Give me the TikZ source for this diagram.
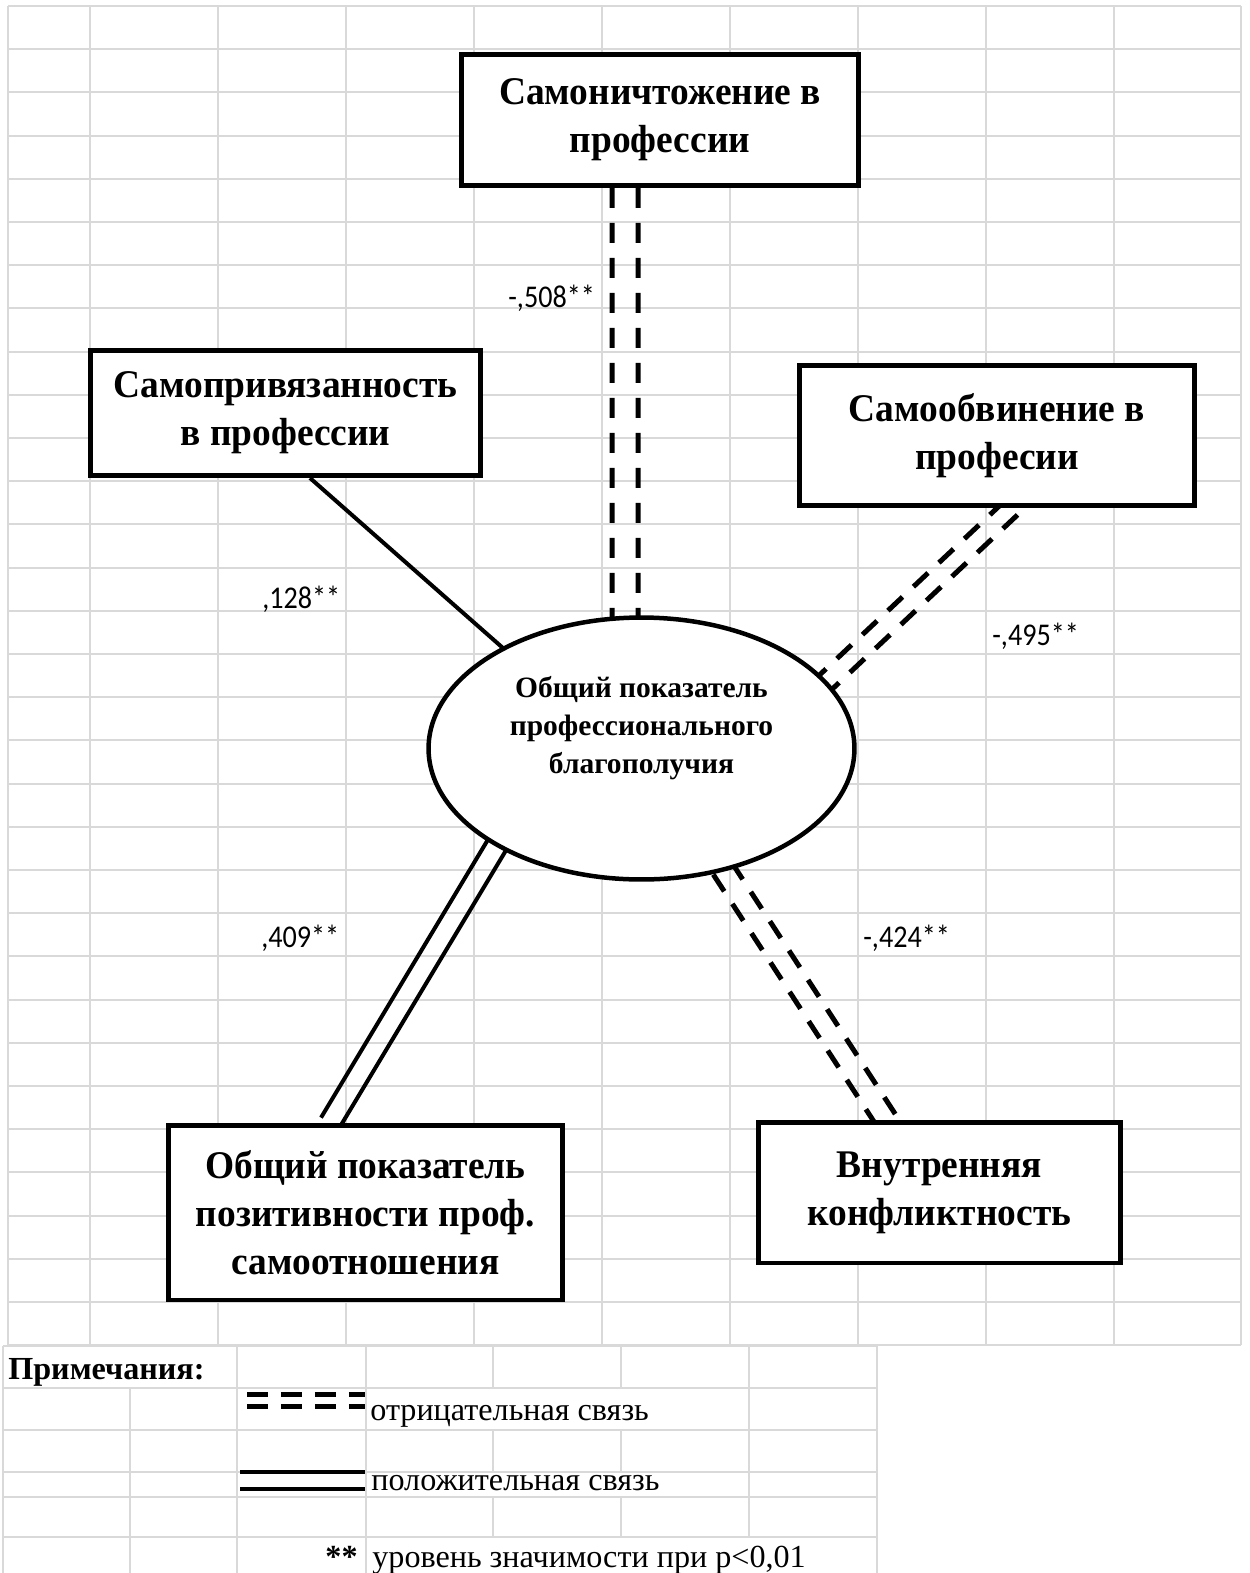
\documentclass[tikz,border=0pt]{standalone}
\usepackage{fontspec}
\setmainfont{Liberation Serif}
\newfontfamily\boxfamily[FakeStretch=0.955]{Liberation Serif}
\newfontfamily\corrfamily[FakeStretch=0.89]{Carlito}
\usetikzlibrary{shapes.geometric, calc, backgrounds}

\newcommand{\boxfont}{\boxfamily\fontsize{22.3}{27.5}\selectfont\bfseries}
\newcommand{\ovalfont}{\fontsize{16.8}{21.6}\selectfont\bfseries}
\newcommand{\corrfont}{\corrfamily\fontsize{18}{21}\selectfont}
\newcommand{\notefont}{\fontsize{18.3}{22}\selectfont}

% two parallel strokes between two points
\newcommand{\pairline}[4]{%
    \draw[#1] ($(#2)!#4!90:(#3)$) -- ($(#3)!#4!-90:(#2)$);
    \draw[#1] ($(#2)!#4!-90:(#3)$) -- ($(#3)!#4!90:(#2)$);
}

\begin{document}
\begin{tikzpicture}[x=0.02cm, y=-0.02cm]
    % Styles
    \tikzstyle{gridline} = [draw=gray!30, line width=0.04cm]
    \tikzstyle{box} = [rectangle, draw=black, line width=0.09cm, fill=white, align=center, inner sep=0pt, font=\boxfont]
    \tikzstyle{oval} = [ellipse, draw=black, line width=0.09cm, fill=white, inner sep=0pt, minimum width=8.52cm, minimum height=5.24cm]
    \tikzstyle{solidline} = [line width=0.08cm]
    \tikzstyle{posline} = [line width=0.08cm]
    \tikzstyle{negline} = [line width=0.1cm, dash pattern=on 0.4cm off 0.3cm]
    \tikzstyle{corr} = [anchor=base west, inner sep=0pt, font=\corrfont]
    \tikzstyle{note} = [anchor=base west, inner sep=0pt, font=\notefont]

    \useasboundingbox (0,0) rectangle (1249,1573);

    % Sheet grid
    \begin{pgfonlayer}{background}
    \foreach \x in {8,90,218,346,474,602,730,858,986,1114,1241}
        \draw[gridline] (\x,6) -- (\x,1345);
    \foreach \k in {0,...,31}
        \draw[gridline] (8,{6+43.2*\k}) -- (1241,{6+43.2*\k});

    % Notes grid
    \foreach \y in {1346,1388,1430,1472,1497,1537}
        \draw[gridline] (3,\y) -- (877,\y);
    \foreach \x in {3,237,366,877}
        \draw[gridline] (\x,1346) -- (\x,1573);
    \draw[gridline] (130,1388) -- (130,1573);
    \draw[gridline] (749,1346) -- (749,1537);
    \foreach \x in {493,621} {
        \draw[gridline] (\x,1346) -- (\x,1388);
        \draw[gridline] (\x,1430) -- (\x,1472);
        \draw[gridline] (\x,1497) -- (\x,1537);
    }
    \end{pgfonlayer}

    % Nodes
    \node[box, minimum width=7.95cm, minimum height=2.63cm] (destroy) at (660,120) {Самоничтожение в\\профессии};
    \node[box, minimum width=7.81cm, minimum height=2.51cm] (attach) at (285.5,413) {Самопривязанность\\в профессии};
    \node[box, minimum width=7.91cm, minimum height=2.81cm] (blame) at (997,435.5) {Самообвинение в\\професии};
    \node[box, minimum width=7.89cm, minimum height=3.49cm] (positive) at (365.5,1212.5) {Общий показатель\\позитивности проф.\\самоотношения};
    \node[box, minimum width=7.25cm, minimum height=2.81cm] (conflict) at (939.5,1192.5) {Внутренняя\\конфликтность};
    \node[oval] (wb) at (641.5,748.5) {};
    \node[align=center, inner sep=0pt, font=\ovalfont] (wbtext) at (641.5,728) {Общий показатель\\профессионального\\благополучия};

    % Link ends on the boxes
    \coordinate (destroyfoot) at ([xshift=-0.7cm]destroy.south);
    \coordinate (attachfoot) at ([xshift=0.49cm]attach.south);
    \coordinate (blamefoot) at ([xshift=0.28cm]blame.south);
    \coordinate (positivehead) at ([xshift=-0.71cm]positive.north);
    \coordinate (conflicthead) at ([xshift=-1.07cm]conflict.north);

    % Links
    \begin{pgfonlayer}{background}
    \pairline{negline, shorten >=-0.2cm}{destroyfoot}{wb.97}{0.26cm}
    \draw[solidline, shorten >=-0.2cm] (attachfoot) -- (wb.144);
    \pairline{negline, shorten >=-0.2cm}{blamefoot}{wb.20}{0.19cm}
    \pairline{posline, shorten >=-0.2cm}{positivehead}{wb.214}{0.21cm}
    \pairline{negline, shorten >=-0.2cm}{conflicthead}{wb.304}{0.22cm}
    \end{pgfonlayer}

    % Coefficients
    \node[corr] (r508) at (508,307) {-,508**};
    \node[corr] (r128) at (262,608) {,128**};
    \node[corr] (r495) at (992,645) {-,495**};
    \node[corr] (r409) at (261,947) {,409**};
    \node[corr] (r424) at (863,947) {-,424**};

    % Notes
    \node[note, font=\notefont\bfseries] (notes) at (8,1379) {Примечания:};
    \coordinate (negA) at (247,1400);
    \coordinate (negB) at (365,1400);
    \pairline{negline, dash pattern=on 0.42cm off 0.26cm}{negA}{negB}{0.12cm}
    \node[note] (negtext) at (370,1420) {отрицательная связь};
    \coordinate (posA) at (240,1480.5);
    \coordinate (posB) at (365,1480.5);
    \pairline{posline}{posA}{posB}{0.17cm}
    \node[note] (postext) at (371,1490) {положительная связь};
    \node[note, anchor=base east, font=\notefont\bfseries] (stars) at (358,1567) {**};
    \node[note] (sigtext) at (372,1567) {уровень значимости при p<0,01};
\end{tikzpicture}
\end{document}
